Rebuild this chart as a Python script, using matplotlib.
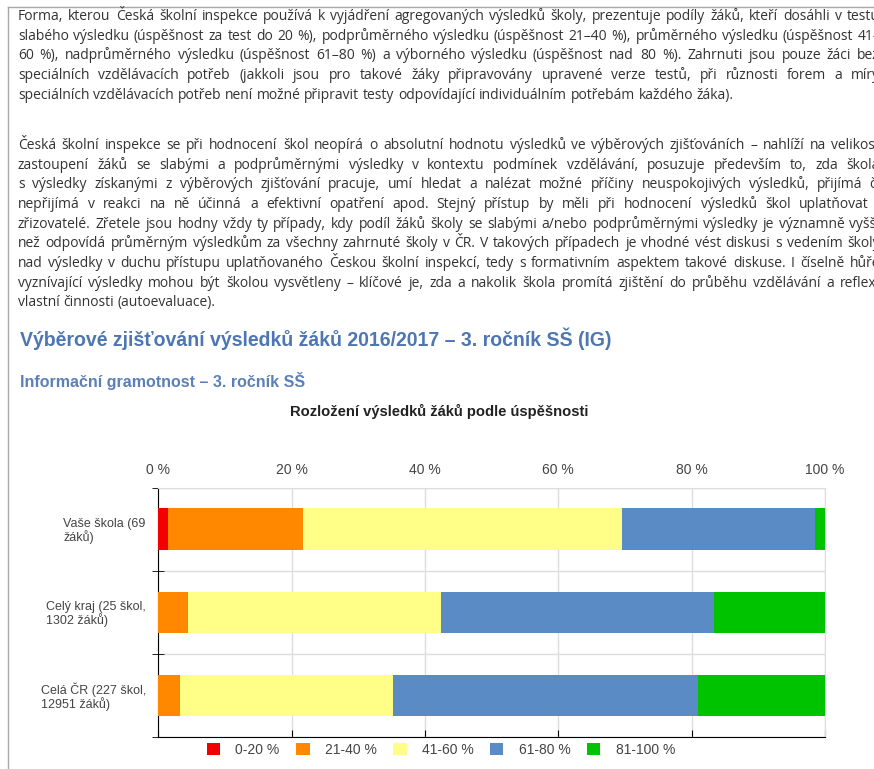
import matplotlib
matplotlib.use("Agg")
from matplotlib import pyplot as plt
from matplotlib.lines import Line2D
import numpy as np

W, H = 874, 769

# --- chart data (share of pupils in %) ---
groups = ["Vaše škola (69\nžáků)", "Celý kraj (25 škol,\n1302 žáků)", "Celá ČR (227 škol,\n12951 žáků)"]
band_labels = ["0-20 %", "21-40 %", "41-60 %", "61-80 %", "81-100 %"]
band_colors = ["#f20000", "#ff8800", "#ffff88", "#5b8bc4", "#00c300"]
band_0_20 = [1.4, 0.0, 0.0]
band_21_40 = [20.3, 4.5, 3.2]
band_41_60 = [47.8, 37.9, 32.0]
band_61_80 = [29.0, 41.0, 45.8]
band_81_100 = [1.5, 16.6, 19.0]
x_ticks = [0, 20, 40, 60, 80, 100]

# --- page text ---
para1 = [
    "Forma, kterou Česká školní inspekce používá k vyjádření agregovaných výsledků školy, prezentuje podíly žáků, kteří dosáhli v testu",
    "slabého výsledku (úspěšnost za test do 20 %), podprůměrného výsledku (úspěšnost 21–40 %), průměrného výsledku (úspěšnost 41–",
    "60 %), nadprůměrného výsledku (úspěšnost 61–80 %) a výborného výsledku (úspěšnost nad 80 %). Zahrnuti jsou pouze žáci bez",
    "speciálních vzdělávacích potřeb (jakkoli jsou pro takové žáky připravovány upravené verze testů, při různosti forem a míry",
    "speciálních vzdělávacích potřeb není možné připravit testy odpovídající individuálním potřebám každého žáka).",
]
para2 = [
    "Česká školní inspekce se při hodnocení škol neopírá o absolutní hodnotu výsledků ve výběrových zjišťováních – nahlíží na velikost",
    "zastoupení žáků se slabými a podprůměrnými výsledky v kontextu podmínek vzdělávání, posuzuje především to, zda škola",
    "s výsledky získanými z výběrových zjišťování pracuje, umí hledat a nalézat možné příčiny neuspokojivých výsledků, přijímá či",
    "nepřijímá v reakci na ně účinná a efektivní opatření apod. Stejný přístup by měli při hodnocení výsledků škol uplatňovat i",
    "zřizovatelé. Zřetele jsou hodny vždy ty případy, kdy podíl žáků školy se slabými a/nebo podprůměrnými výsledky je významně vyšší",
    "než odpovídá průměrným výsledkům za všechny zahrnuté školy v ČR. V takových případech je vhodné vést diskusi s vedením školy",
    "nad výsledky v duchu přístupu uplatňovaného Českou školní inspekcí, tedy s formativním aspektem takové diskuse. I číselně hůře",
    "vyznívající výsledky mohou být školou vysvětleny – klíčové je, zda a nakolik škola promítá zjištění do průběhu vzdělávání a reflexi",
    "vlastní činnosti (autoevaluace).",
]
heading = "Výběrové zjišťování výsledků žáků 2016/2017 – 3. ročník SŠ (IG)"
subheading = "Informační gramotnost – 3. ročník SŠ"
chart_title = "Rozložení výsledků žáků podle úspěšnosti"

body_font = "Open Sans"
body_color = "#333333"
chart_font = "Liberation Sans"

fig = plt.figure(figsize=(W / 100, H / 100), dpi=100)
fig.patch.set_facecolor("white")
renderer = fig.canvas.get_renderer()


def width_px(t):
    return t.get_window_extent(renderer).width


def fit(t, target):
    # scale the font so the text is target pixels wide
    t.set_fontsize(t.get_fontsize() * target / width_px(t))
    return t


# body font size: this part of a line is ~442 px wide in the reference
probe = fig.text(0, 0, "speciálních vzdělávacích potřeb není možné připravit testy odpovída",
                 fontsize=10, family=body_font)
fit(probe, 442)
body_size = probe.get_fontsize()
probe.remove()

sp = fig.text(0, 0, "x x", fontsize=body_size, family=body_font)
sp2 = fig.text(0, 0, "xx", fontsize=body_size, family=body_font)
space_w = width_px(sp) - width_px(sp2)
sp.remove()
sp2.remove()


def justify(line, y, x0, x1, last=False):
    # y is the line's middle; words sit on a common baseline
    base = 1 - (y + 4) / H
    words = line.split(" ")
    arts = [fig.text(0, base, w, fontsize=body_size, family=body_font,
                     color=body_color, va="baseline") for w in words]
    widths = [width_px(a) for a in arts]
    gap = space_w if last else (x1 - x0 - sum(widths)) / (len(words) - 1)
    x = x0
    for a, w in zip(arts, widths):
        a.set_x(x / W)
        x += w + gap


for i, line in enumerate(para1):
    justify(line, 16 + 19.7 * i, 18, 880, last=(i == len(para1) - 1))
for i, line in enumerate(para2):
    justify(line, 145 + 19.65 * i, 18, 880, last=(i == len(para2) - 1))

# page frame
fig.add_artist(Line2D([8 / W, 1], [1 - 7 / H, 1 - 7 / H], color="#a8a8a8", lw=1))
fig.add_artist(Line2D([8 / W, 8 / W], [0, 1 - 7 / H], color="#a8a8a8", lw=1))

t = fig.text(20 / W, 1 - 339 / H, heading, fontsize=14, weight="bold",
             family=chart_font, color="#4d76b2", va="center")
fit(t, 594)
t = fig.text(20 / W, 1 - 381 / H, subheading, fontsize=12, weight="bold",
             family=chart_font, color="#5b80b8", va="center")
fit(t, 282)
t = fig.text(439 / W, 1 - 411 / H, chart_title, fontsize=10, weight="bold",
             family=chart_font, color="#222222", ha="center", va="center")
fit(t, 298)

# --- stacked bar chart ---
ax = fig.add_axes([158.3 / W, 1 - 737.3 / H, 666.7 / W, 249.6 / H])
shares = np.array([band_0_20, band_21_40, band_41_60, band_61_80, band_81_100])
ypos = np.arange(len(groups))
left = np.zeros(len(groups))
for vals, lab, col in zip(shares, band_labels, band_colors):
    ax.barh(ypos, vals, left=left, height=0.5, color=col, label=lab, zorder=3)
    left += vals

ax.set_xlim(0, 100)
ax.set_ylim(2.5, -0.5)
ax.set_xticks(x_ticks)
ax.set_xticklabels([f"{v} %" for v in x_ticks], family=chart_font)
ax.tick_params(axis="x", bottom=True, top=False, labelbottom=False, labeltop=True,
               direction="in", length=5, color="black", labelcolor="#444444",
               labelsize=10, pad=8)
ax.set_yticks(ypos)
ax.set_yticklabels(groups, family=chart_font)
ax.set_yticks([-0.5, 0.5, 1.5, 2.5], minor=True)
ax.tick_params(axis="y", which="major", length=0, labelsize=9, labelcolor="#444444", pad=9)
ax.tick_params(axis="y", which="minor", length=8, direction="inout", color="black")
for lab in ax.get_yticklabels():
    lab.set_multialignment("left")
    lab.set_linespacing(1.0)

ax.grid(axis="x", color="#dddddd", lw=1, zorder=0)
ax.grid(axis="y", which="minor", color="#dddddd", lw=1, zorder=0)
ax.set_axisbelow(True)
ax.spines["left"].set_color("black")
ax.spines["bottom"].set_color("black")
ax.spines["top"].set_color("#dddddd")
ax.spines["right"].set_color("#dddddd")

ax.legend(loc="center", bbox_to_anchor=(441 / W, 1 - 750 / H), bbox_transform=fig.transFigure,
          ncol=5, frameon=False, prop={"family": chart_font, "size": 10},
          labelcolor="#444444", handlelength=0.95, handleheight=0.95,
          handletextpad=1.1, columnspacing=1.2, borderpad=0, borderaxespad=0)

plt.savefig("out.png", dpi=100)
